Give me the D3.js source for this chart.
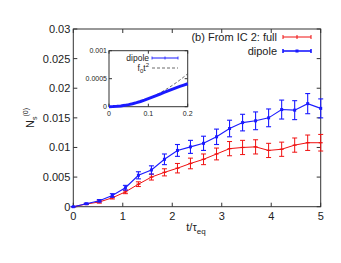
<!DOCTYPE html>
<meta charset="utf-8">
<style>
body { margin: 0; background: #fff; }
svg text { font-family: "Liberation Sans", Arial, sans-serif; fill: #222; }
</style>
<svg id="chart" width="341" height="263"></svg>
<script src="https://d3js.org/d3.v7.min.js"></script>
<script>

// main panel data
var tVals = [0, 0.263, 0.526, 0.789, 1.053, 1.316, 1.579, 1.842, 2.105, 2.368,
             2.632, 2.895, 3.158, 3.421, 3.684, 3.947, 4.211, 4.474, 4.737, 5.0];
var fullVals = [0, 0.00045, 0.0008, 0.0015, 0.0025, 0.0038, 0.005, 0.0058, 0.0065, 0.0073,
                0.008, 0.0089, 0.0098, 0.0100, 0.0101, 0.0095, 0.0097, 0.0104, 0.0108, 0.0108];
var fullErr = [0, 0.0001, 0.0002, 0.0002, 0.0003, 0.0004, 0.0005, 0.0006, 0.0008, 0.0009,
               0.0009, 0.0010, 0.0012, 0.0012, 0.0012, 0.0012, 0.0012, 0.0012, 0.0013, 0.0014];
var dipoleVals = [0, 0.0005, 0.001, 0.0019, 0.0032, 0.0053, 0.0062, 0.008, 0.0095, 0.0101,
                  0.0107, 0.0118, 0.0132, 0.0142, 0.0145, 0.015, 0.0164, 0.0163, 0.0174, 0.0166];
var dipoleErr = [0, 0.0001, 0.0002, 0.0003, 0.0004, 0.0006, 0.0007, 0.0009, 0.0010, 0.0011,
                 0.0012, 0.0013, 0.0014, 0.0014, 0.0015, 0.0015, 0.0016, 0.0016, 0.0017, 0.0016];

var xTicks = [0, 1, 2, 3, 4, 5];
var yTicks = [0, 0.005, 0.01, 0.015, 0.02, 0.025, 0.03];
var yTickLabels = ["0", "0.005", "0.01", "0.015", "0.02", "0.025", "0.03"];

// inset data
var insetT = [0, 0.01, 0.02, 0.03, 0.04, 0.05, 0.06, 0.07, 0.08, 0.09, 0.1,
              0.11, 0.12, 0.13, 0.14, 0.15, 0.16, 0.17, 0.18, 0.19, 0.2];
var insetDipole = [0, 0.0000015, 0.000006, 0.000013, 0.000024, 0.000037, 0.000053, 0.000072,
                   0.000093, 0.000117, 0.000143, 0.00017, 0.000198, 0.000226, 0.000254,
                   0.000282, 0.00031, 0.000336, 0.000362, 0.000386, 0.00041];
var insetFit = [0, 0.0000015, 0.0000059, 0.000013, 0.000024, 0.000037, 0.000053, 0.000072,
                0.000094, 0.000119, 0.000147, 0.000178, 0.000212, 0.000248, 0.000288,
                0.000331, 0.000376, 0.000425, 0.000476, 0.000531, 0.000588];
var insetXTicks = [0, 0.1, 0.2];
var insetXLabels = ["0", "0.1", "0.2"];
var insetYTicks = [0, 0.0005, 0.001];
var insetYLabels = ["0", "0.0005", "0.001"];

var red = "#f01010", blue = "#1a1aff";

var svg = d3.select("#chart");

// ---- main panel
var x = d3.scaleLinear().domain([0, 5]).range([73.3, 320.7]);
var y = d3.scaleLinear().domain([0, 0.03]).range([206.7, 29]);

var tl = 4;
var g = svg.append("g");

// ticks on all four sides (inward)
xTicks.forEach(function(t) {
  g.append("line").attr("x1", x(t)).attr("x2", x(t)).attr("y1", y(0)).attr("y2", y(0) - tl).attr("stroke", "#333");
  g.append("line").attr("x1", x(t)).attr("x2", x(t)).attr("y1", y(0.03)).attr("y2", y(0.03) + tl).attr("stroke", "#333");
  g.append("text").attr("x", x(t)).attr("y", y(0) + 13).attr("text-anchor", "middle")
    .style("font-size", "11px").text(t);
});
yTicks.forEach(function(v, i) {
  g.append("line").attr("x1", x(0)).attr("x2", x(0) + tl).attr("y1", y(v)).attr("y2", y(v)).attr("stroke", "#333");
  g.append("line").attr("x1", x(5)).attr("x2", x(5) - tl).attr("y1", y(v)).attr("y2", y(v)).attr("stroke", "#333");
  g.append("text").attr("x", x(0) - 3).attr("y", y(v) + 4).attr("text-anchor", "end")
    .style("font-size", "11px").text(yTickLabels[i]);
});

g.append("rect").attr("x", x(0)).attr("y", y(0.03)).attr("width", x(5) - x(0)).attr("height", y(0) - y(0.03))
  .attr("fill", "none").attr("stroke", "#333").attr("stroke-width", 1);

// axis titles
var xl = g.append("text").attr("x", 196).attr("y", 231).attr("text-anchor", "middle").style("font-size", "11px");
xl.append("tspan").text("t/τ");
xl.append("tspan").attr("dy", 3).style("font-size", "8px").text("eq");

var yl = g.append("text").attr("transform", "translate(34,118) rotate(-90)").attr("text-anchor", "middle")
  .style("font-size", "11px");
yl.append("tspan").text("N");
yl.append("tspan").attr("dy", 3).style("font-size", "7px").text("s");
yl.append("tspan").attr("dy", -9).attr("dx", 0).style("font-size", "7px").text("(0)");

function drawSeries(vals, errs, color, lw, marker) {
  var data = tVals.map(function(t, i) { return { t: t, v: vals[i], e: errs[i] }; });
  var line = d3.line().x(function(d) { return x(d.t); }).y(function(d) { return y(d.v); });
  g.append("path").datum(data).attr("d", line).attr("fill", "none").attr("stroke", color).attr("stroke-width", lw);
  var s = g.selectAll(null).data(data).enter().append("g");
  s.append("line").attr("x1", function(d) { return x(d.t); }).attr("x2", function(d) { return x(d.t); })
    .attr("y1", function(d) { return y(d.v - d.e); }).attr("y2", function(d) { return y(d.v + d.e); })
    .attr("stroke", color).attr("stroke-width", lw);
  [-1, 1].forEach(function(sg) {
    s.append("line").attr("x1", function(d) { return x(d.t) - 2.5; }).attr("x2", function(d) { return x(d.t) + 2.5; })
      .attr("y1", function(d) { return y(d.v + sg * d.e); }).attr("y2", function(d) { return y(d.v + sg * d.e); })
      .attr("stroke", color).attr("stroke-width", lw);
  });
  if (marker === "square") {
    s.append("rect").attr("x", function(d) { return x(d.t) - 1.5; }).attr("y", function(d) { return y(d.v) - 1.5; })
      .attr("width", 3).attr("height", 3).attr("fill", color);
  } else {
    s.append("line").attr("x1", function(d) { return x(d.t) - 2; }).attr("x2", function(d) { return x(d.t) + 2; })
      .attr("y1", function(d) { return y(d.v); }).attr("y2", function(d) { return y(d.v); })
      .attr("stroke", color).attr("stroke-width", 1.2);
  }
}

drawSeries(fullVals, fullErr, red, 1, "plus");
drawSeries(dipoleVals, dipoleErr, blue, 1.1, "square");

// legend
function legendEntry(yy, label, color, lw, marker) {
  g.append("text").attr("x", 277).attr("y", yy + 4).attr("text-anchor", "end").style("font-size", "11px").text(label);
  g.append("line").attr("x1", 283).attr("x2", 311).attr("y1", yy).attr("y2", yy).attr("stroke", color).attr("stroke-width", lw);
  [283, 311].forEach(function(xx) {
    g.append("line").attr("x1", xx).attr("x2", xx).attr("y1", yy - 2).attr("y2", yy + 2).attr("stroke", color).attr("stroke-width", lw);
  });
  if (marker === "square") {
    g.append("rect").attr("x", 295.5).attr("y", yy - 1.5).attr("width", 3).attr("height", 3).attr("fill", color);
  } else {
    g.append("line").attr("x1", 297).attr("x2", 297).attr("y1", yy - 2).attr("y2", yy + 2).attr("stroke", color);
  }
}
legendEntry(37, "(b) From IC 2: full", red, 1, "plus");
legendEntry(51, "dipole", blue, 1.6, "square");

// ---- inset
var ix = d3.scaleLinear().domain([0, 0.2]).range([109, 187.7]);
var iy = d3.scaleLinear().domain([0, 0.001]).range([106.7, 50.7]);
var ig = svg.append("g");
ig.append("rect").attr("x", ix(0)).attr("y", iy(0.001)).attr("width", ix(0.2) - ix(0)).attr("height", iy(0) - iy(0.001))
  .attr("fill", "#fff").attr("stroke", "#333");
insetXTicks.forEach(function(t, i) {
  ig.append("line").attr("x1", ix(t)).attr("x2", ix(t)).attr("y1", iy(0)).attr("y2", iy(0) - 3).attr("stroke", "#333");
  ig.append("line").attr("x1", ix(t)).attr("x2", ix(t)).attr("y1", iy(0.001)).attr("y2", iy(0.001) + 3).attr("stroke", "#333");
  ig.append("text").attr("x", ix(t)).attr("y", iy(0) + 9).attr("text-anchor", "middle").style("font-size", "7px").text(insetXLabels[i]);
});
insetYTicks.forEach(function(v, i) {
  ig.append("line").attr("x1", ix(0)).attr("x2", ix(0) + 3).attr("y1", iy(v)).attr("y2", iy(v)).attr("stroke", "#333");
  ig.append("line").attr("x1", ix(0.2)).attr("x2", ix(0.2) - 3).attr("y1", iy(v)).attr("y2", iy(v)).attr("stroke", "#333");
  ig.append("text").attr("x", ix(0) - 2).attr("y", iy(v) + 2.5).attr("text-anchor", "end").style("font-size", "7px").text(insetYLabels[i]);
});

var iline = d3.line().x(function(d) { return ix(d[0]); }).y(function(d) { return iy(d[1]); });
ig.append("path").datum(insetT.map(function(t, i) { return [t, insetFit[i]]; })).attr("d", iline)
  .attr("fill", "none").attr("stroke", "#444").attr("stroke-width", 0.8).attr("stroke-dasharray", "3,2");
ig.append("path").datum(insetT.map(function(t, i) { return [t, insetDipole[i]]; })).attr("d", iline)
  .attr("fill", "none").attr("stroke", blue).attr("stroke-width", 3);

// inset legend
ig.append("text").attr("x", 149).attr("y", 60.5).attr("text-anchor", "end").style("font-size", "8.5px").text("dipole");
ig.append("line").attr("x1", 152).attr("x2", 178).attr("y1", 58).attr("y2", 58).attr("stroke", blue);
[152, 165, 178].forEach(function(xx) {
  ig.append("line").attr("x1", xx).attr("x2", xx).attr("y1", 56.5).attr("y2", 59.5).attr("stroke", blue).attr("stroke-width", 0.8);
});
var ft = ig.append("text").attr("x", 149).attr("y", 71).attr("text-anchor", "end").style("font-size", "8.5px");
ft.append("tspan").text("f");
ft.append("tspan").attr("dy", 2).style("font-size", "6px").text("0");
ft.append("tspan").attr("dy", -2).text("t");
ft.append("tspan").attr("dy", -4).style("font-size", "6px").text("2");
ig.append("line").attr("x1", 152).attr("x2", 178).attr("y1", 68).attr("y2", 68).attr("stroke", "#444")
  .attr("stroke-width", 0.8).attr("stroke-dasharray", "3,2");
</script>
